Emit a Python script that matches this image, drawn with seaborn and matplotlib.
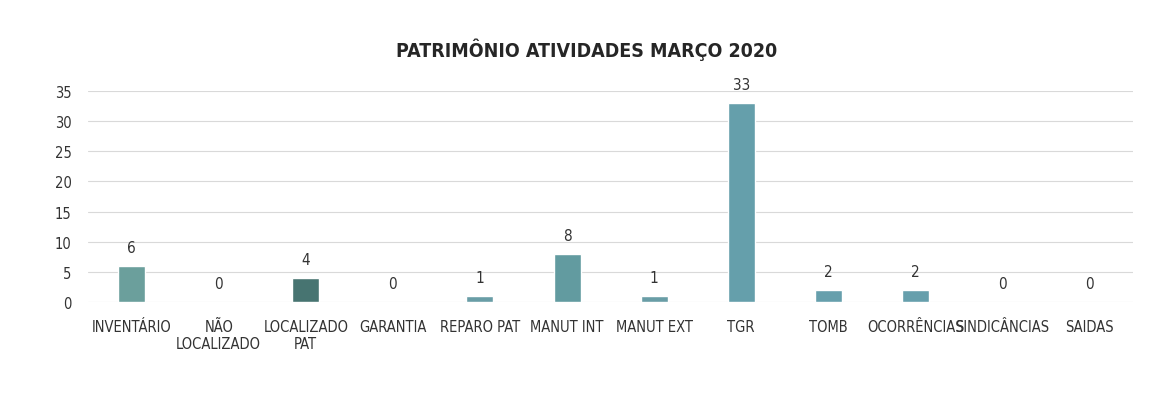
import pandas as pd
import seaborn as sns
from matplotlib import pyplot as plt

# data
categorias = ["INVENTÁRIO", "NÃO\nLOCALIZADO", "LOCALIZADO\nPAT", "GARANTIA",
              "REPARO PAT", "MANUT INT", "MANUT EXT", "TGR", "TOMB",
              "OCORRÊNCIAS", "SINDICÂNCIAS", "SAIDAS"]
valores = [6, 0, 4, 0, 1, 8, 1, 33, 2, 2, 0, 0]
cores = ["#62a8a3", "#5aa6b2", "#3f7b78", "#5aa6b2", "#5fa4b0", "#58a4aa",
         "#5fa4b0", "#5aa7b6", "#5aa6b8", "#5aa6b8", "#5aa6b2", "#5aa6b2"]

df = pd.DataFrame({"cat": categorias, "val": valores})

sns.set_style("white")
plt.rcParams["font.family"] = ["DejaVu Sans"]
plt.rcParams["font.stretch"] = "condensed"

fig = plt.figure(figsize=(11.51, 4.06), dpi=100)
ax = fig.add_axes([0.0765, 0.2537, 0.908, 0.5197])

sns.barplot(data=df, x="cat", y="val", hue="cat", palette=cores,
            legend=False, width=0.31, ax=ax, zorder=3)

ax.set_ylim(0, 35)
ax.set_yticks(range(0, 36, 5))
ax.grid(axis="y", color="#d9d9d9", linewidth=0.8, zorder=0)
ax.set_axisbelow(True)
for s in ax.spines.values():
    s.set_visible(False)

ax.tick_params(axis="both", length=0, labelsize=10.5, colors="#333333")
ax.tick_params(axis="x", pad=12)
ax.tick_params(axis="y", pad=12)
ax.set_xlabel("")
ax.set_ylabel("")

for i, v in enumerate(valores):
    ax.annotate(str(v), (i, v), xytext=(0, 8), textcoords="offset points",
                ha="center", va="bottom", fontsize=11, color="#333333")

fig.suptitle("PATRIMÔNIO ATIVIDADES MARÇO 2020", x=0.51, y=0.905, fontsize=14,
             fontweight="bold", color="#262626")

fig.savefig("out.png", dpi=100)
